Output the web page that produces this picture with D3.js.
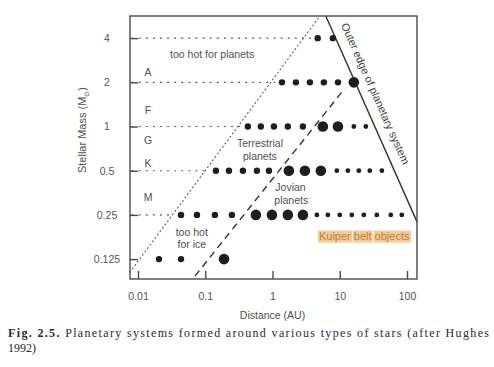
<!DOCTYPE html>
<html>
<head>
<meta charset="utf-8">
<script src="https://cdn.jsdelivr.net/npm/d3@7"></script>
<style>
  body { margin: 0; background: #fff; }
  svg text { font-family: "Liberation Sans", Arial, sans-serif; }
</style>
</head>
<body>
<div id="main-container"></div>
<script>
// DATA
const massTicks = [4, 2, 1, 0.5, 0.25, 0.125];
const distTicks = [0.01, 0.1, 1, 10, 100];

// planets per star: [distance (AU), kind]  t = terrestrial, j = jovian, k = kuiper
const planets4 = [[4.7, "t"], [7.9, "t"]];
const planets2 = [[1.38, "t"], [2.23, "t"], [3.6, "t"], [5.8, "t"], [9.4, "t"], [16.2, "j"]];
const planets1 = [[0.43, "t"], [0.67, "t"], [1.05, "t"], [1.69, "t"], [2.83, "t"],
  [5.6, "j"], [9.4, "j"], [16.2, "k"], [24.4, "k"]];
const planets05 = [[0.144, "t"], [0.225, "t"], [0.363, "t"], [0.586, "t"], [0.885, "t"],
  [1.75, "j"], [3.03, "j"], [5.23, "j"],
  [9.05, "k"], [13.2, "k"], [19.2, "k"], [28, "k"], [42.3, "k"]];
const planets025 = [[0.0436, "t"], [0.0753, "t"], [0.139, "t"], [0.249, "t"],
  [0.566, "j"], [0.98, "j"], [1.69, "j"], [2.83, "j"],
  [4.57, "k"], [6.66, "k"], [10, "k"], [15.1, "k"], [22.8, "k"], [35.6, "k"], [57.4, "k"], [83.7, "k"]];
const planets0125 = [[0.0205, "t"], [0.0436, "t"], [0.19, "j"]];

const systems = [
  {mass: 4, planets: planets4, guide: true},
  {mass: 2, planets: planets2, guide: true},
  {mass: 1, planets: planets1, guide: true},
  {mass: 0.5, planets: planets05, guide: true},
  {mass: 0.25, planets: planets025, guide: true},
  {mass: 0.125, planets: planets0125, guide: false}
];

// boundary lines, [distance, mass] end points
const hotLine = [[0.0076, 0.102], [5.06, 5.66]];
const iceLine = [[0.0703, 0.0958], [11.9, 1.82]];
const edgeLine = [[6.2, 5.66], [141, 0.224]];

// spectral classes [letter, mass]
const spectral = [["A", 2.35], ["F", 1.29], ["G", 0.8], ["K", 0.56], ["M", 0.33]];

// CONSTANTS
const W = 494, H = 367;
const plot = {left: 130, right: 417, top: 16, bottom: 279};
const ink = "#4a4a4a";

const svg = d3.select("#main-container")
  .append("svg")
    .attr("width", W)
    .attr("height", H);

const x = d3.scaleLog()
  .domain([0.0076, 140.8])
  .range([plot.left, plot.right]);

const y = d3.scaleLog().base(2)
  .domain([0.0915, 5.66])
  .range([plot.bottom, plot.top]);

const radius = d3.scaleOrdinal()
  .domain(["t", "j", "k"])
  .range([3.2, 5.3, 2.4]);

svg.append("clipPath").attr("id", "clip")
  .append("rect")
    .attr("x", plot.left).attr("y", plot.top)
    .attr("width", plot.right - plot.left)
    .attr("height", plot.bottom - plot.top);

const line = d3.line().x(d => x(d[0])).y(d => y(d[1]));

// horizontal dotted guides up to the first planet
svg.selectAll(".guide")
  .data(systems.filter(s => s.guide))
  .enter()
  .append("line")
    .attr("x1", plot.left + 2)
    .attr("x2", d => x(d.planets[0][0]) - 7)
    .attr("y1", d => y(d.mass))
    .attr("y2", d => y(d.mass))
    .attr("stroke", "#555")
    .attr("stroke-width", 1.1)
    .attr("stroke-dasharray", "1.1,6")
    .attr("stroke-linecap", "round");

const lines = svg.append("g").attr("clip-path", "url(#clip)");

lines.append("path")
  .attr("d", line(hotLine))
  .attr("fill", "none")
  .attr("stroke", "#555")
  .attr("stroke-width", 1.1)
  .attr("stroke-dasharray", "1,3.2")
  .attr("stroke-linecap", "round");

lines.append("path")
  .attr("d", line(iceLine))
  .attr("fill", "none")
  .attr("stroke", "#333")
  .attr("stroke-width", 1.4)
  .attr("stroke-dasharray", "7,5");

lines.append("path")
  .attr("d", line(edgeLine))
  .attr("fill", "none")
  .attr("stroke", "#333")
  .attr("stroke-width", 1.4);

// planets
const rows = svg.selectAll(".row")
  .data(systems)
  .enter()
  .append("g");

rows.selectAll("circle")
  .data(s => s.planets.map(p => ({mass: s.mass, dist: p[0], kind: p[1]})))
  .enter()
  .append("circle")
    .attr("cx", d => x(d.dist))
    .attr("cy", d => y(d.mass))
    .attr("r", d => radius(d.kind))
    .attr("fill", "#1e1e1e");

// frame + axes (ticks point inwards)
svg.append("rect")
  .attr("x", plot.left).attr("y", plot.top)
  .attr("width", plot.right - plot.left)
  .attr("height", plot.bottom - plot.top)
  .attr("fill", "none")
  .attr("stroke", ink)
  .attr("stroke-width", 1.4);

const xAxis = svg.append("g")
  .attr("transform", `translate(0, ${plot.bottom})`)
  .call(d3.axisBottom(x).tickValues(distTicks).tickFormat(d3.format("~g")).tickSize(-8).tickPadding(14));

const yAxis = svg.append("g")
  .attr("transform", `translate(${plot.left}, 0)`)
  .call(d3.axisLeft(y).tickValues(massTicks).tickFormat(d3.format("~g")).tickSize(-8));

[xAxis, yAxis].forEach(a => {
  a.select(".domain").remove();
  a.selectAll(".tick line").attr("stroke", ink).attr("stroke-width", 1.4);
  a.selectAll(".tick text")
    .attr("fill", "#555")
    .style("font-size", "10.5px")
    .style("font-family", "Liberation Sans, Arial, sans-serif");
});
yAxis.selectAll(".tick text").attr("x", -23).attr("text-anchor", "middle");

// annotations
const note = (txt, xd, ym, opts = {}) => svg.append("text")
  .attr("x", x(xd))
  .attr("y", ym)
  .attr("text-anchor", opts.anchor || "middle")
  .attr("dy", "0.35em")
  .attr("fill", "#505050")
  .style("font-size", "10.5px")
  .text(txt);

spectral.forEach(s => note(s[0], 0.0141, y(s[1])));
note("too hot for planets", 0.03, y(3.1), {anchor: "start"});
note("Terrestrial", 0.65, 143);
note("planets", 0.65, 156);
note("Jovian", 1.85, 187);
note("planets", 1.9, 200);
note("too hot", 0.063, 232);
note("for ice", 0.063, 244);

// Kuiper belt objects with orange word boxes
const kx = x(4.9), ky = 236.5;
const kuiper = svg.append("g");
const kt = kuiper.append("text")
  .attr("x", kx).attr("y", ky).attr("dy", "0.35em")
  .attr("fill", "#b9824c")
  .style("font-size", "11px");
["Kuiper", "belt", "objects"].forEach((w, i) => {
  kt.append("tspan").attr("class", "kw").text(w);
  if (i < 2) kt.append("tspan").text(" ");
});
kt.selectAll(".kw").each(function () {
  const b = this.getBBox();
  kuiper.insert("rect", "text")
    .attr("x", b.x - 1).attr("y", ky - 6)
    .attr("width", b.width + 2).attr("height", 12)
    .attr("fill", "#f6c994");
});

// outer edge label along the solid line
const p0 = [x(edgeLine[0][0]), y(edgeLine[0][1])];
const p1 = [x(edgeLine[1][0]), y(edgeLine[1][1])];
const ang = Math.atan2(p1[1] - p0[1], p1[0] - p0[0]) * 180 / Math.PI;
const t0 = 0.05;
svg.append("text")
  .attr("transform", `translate(${p0[0] + t0 * (p1[0] - p0[0])}, ${p0[1] + t0 * (p1[1] - p0[1])}) rotate(${ang})`)
  .attr("x", 3)
  .attr("y", -10)
  .attr("fill", "#444")
  .style("font-size", "11px")
  .text("Outer edge of planetary system");

// axis titles
svg.append("text")
  .attr("x", (plot.left + plot.right) / 2 - 1)
  .attr("y", 319)
  .attr("text-anchor", "middle")
  .attr("fill", "#505050")
  .style("font-size", "10.5px")
  .text("Distance  (AU)");

const yt = svg.append("text")
  .attr("transform", "translate(86, 130) rotate(-90)")
  .attr("text-anchor", "middle")
  .attr("fill", "#505050")
  .style("font-size", "11px");
yt.append("tspan").text("Stellar Mass  (M");
yt.append("tspan").attr("font-size", "7px").attr("dy", 3).text("\u2299");
yt.append("tspan").attr("dy", -3).text(")");

// caption
const cap = svg.append("text")
  .attr("x", 8).attr("y", 337)
  .attr("textLength", 481)
  .attr("lengthAdjust", "spacing")
  .attr("fill", "#2a2a2a")
  .style("font-family", "Liberation Serif, serif")
  .style("font-size", "12px");
cap.append("tspan").attr("font-weight", "bold").text("Fig. 2.5.");
cap.append("tspan").text(" Planetary systems formed around various types of stars (after Hughes");

svg.append("text")
  .attr("x", 8).attr("y", 352)
  .attr("fill", "#2a2a2a")
  .style("font-family", "Liberation Serif, serif")
  .style("font-size", "12px")
  .text("1992)");
</script>
</body>
</html>
